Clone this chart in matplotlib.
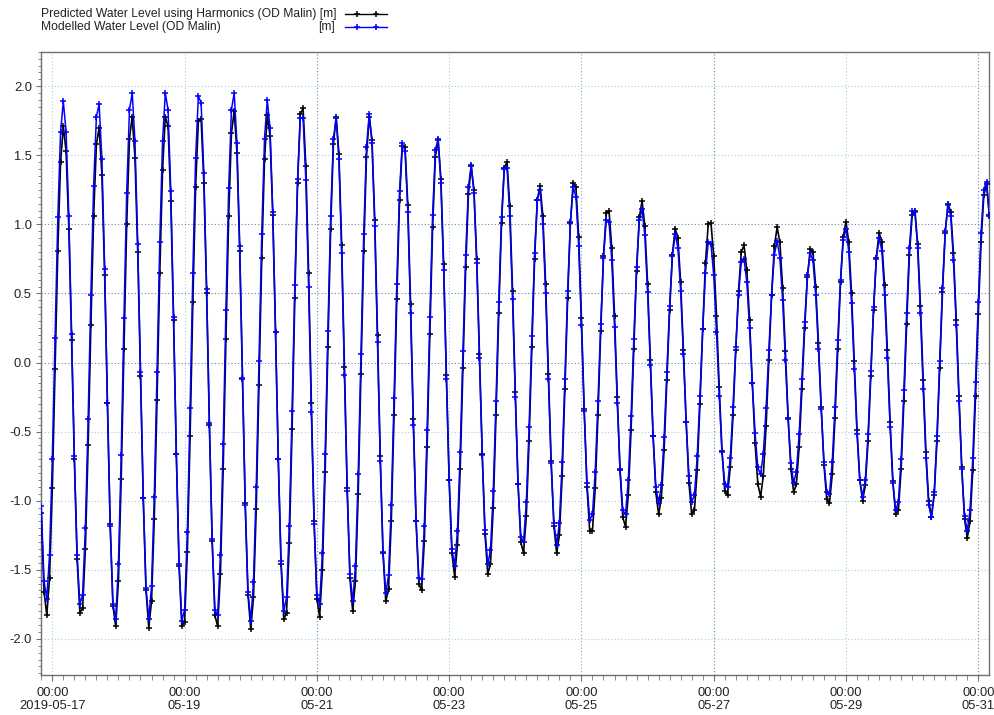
import matplotlib
matplotlib.use("Agg")
import matplotlib.pyplot as plt
import matplotlib.dates as mdates
from matplotlib.lines import Line2D
from matplotlib.ticker import MultipleLocator, FixedLocator, FixedFormatter, FormatStrFormatter
from datetime import datetime, timedelta

plt.rcParams['font.family'] = ['Liberation Sans', 'DejaVu Sans']
plt.rcParams['axes.unicode_minus'] = False

# ---- data: hourly water levels in cm, from 2019-05-16 20:00 ----
series_start = datetime(2019, 5, 16, 20, 0)

predicted_cm = [
    -109, -166, -183, -156, -91, -5, 81, 145, 171, 153, 97, 16, -70, -142, -181, -178, -135, -60, 27, 106,
    158, 170, 136, 63, -29, -117, -176, -191, -158, -84, 10, 100, 162, 178, 148, 80, -10, -98, -165, -192,
    -173, -113, -27, 65, 139, 178, 171, 117, 31, -66, -147, -191, -188, -137, -53, 44, 127, 175, 176, 130,
    50, -45, -129, -183, -191, -153, -77, 17, 106, 166, 182, 152, 81, -12, -102, -168, -193, -170, -106, -16,
    76, 147, 179, 164, 107, 22, -70, -146, -186, -181, -131, -48, 47, 130, 180, 184, 142, 65, -29, -115,
    -171, -184, -150, -79, 11, 97, 158, 178, 151, 85, -3, -91, -156, -180, -158, -95, -8, 81, 149, 178,
    161, 103, 20, -68, -138, -173, -164, -115, -38, 46, 118, 157, 156, 114, 42, -41, -115, -160, -165, -129,
    -61, 21, 98, 149, 161, 133, 71, -9, -85, -138, -155, -132, -77, -4, 69, 122, 142, 125, 75, 6,
    -66, -124, -153, -146, -105, -38, 36, 101, 141, 145, 113, 52, -21, -88, -130, -138, -111, -57, 11, 75,
    118, 128, 106, 57, -8, -71, -118, -138, -125, -82, -19, 47, 101, 130, 127, 91, 32, -34, -90, -122,
    -122, -91, -38, 23, 77, 108, 110, 83, 34, -25, -78, -112, -119, -96, -49, 10, 66, 105, 117, 99,
    57, 2, -53, -94, -110, -98, -63, -13, 38, 78, 97, 90, 58, 9, -43, -87, -110, -107, -78, -30,
    24, 72, 100, 101, 77, 34, -18, -64, -93, -96, -76, -38, 9, 52, 80, 85, 67, 31, -15, -58,
    -88, -97, -82, -46, 2, 49, 84, 98, 87, 54, 8, -40, -77, -94, -88, -61, -19, 25, 62, 82,
    80, 55, 14, -32, -74, -99, -102, -81, -40, 10, 58, 91, 102, 87, 50, 1, -49, -85, -100, -89,
    -57, -10, 38, 76, 94, 87, 56, 9, -43, -86, -110, -107, -77, -28, 28, 78, 107, 110, 86, 41,
    -13, -65, -100, -112, -96, -57, -4, 51, 94, 115, 109, 79, 31, -24, -76, -113, -127, -115, -78, -24,
    35, 87, 121, 129, 107,
]

modelled_cm = [
    -104, -158, -171, -139, -70, 18, 105, 167, 189, 167, 106, 21, -68, -139, -175, -168, -120, -41, 49, 128,
    178, 187, 147, 68, -29, -118, -175, -186, -146, -67, 32, 123, 183, 195, 160, 86, -7, -98, -163, -186,
    -162, -97, -7, 87, 160, 195, 183, 124, 33, -66, -146, -187, -179, -123, -33, 65, 148, 193, 188, 137,
    53, -44, -128, -179, -183, -139, -59, 38, 126, 183, 195, 159, 84, -11, -103, -166, -187, -159, -90, 1,
    93, 162, 190, 170, 109, 22, -70, -144, -180, -170, -118, -35, 56, 133, 177, 177, 132, 55, -36, -117,
    -168, -175, -138, -66, 23, 106, 162, 177, 147, 79, -9, -93, -153, -173, -147, -81, 6, 93, 156, 180,
    159, 99, 15, -71, -137, -167, -154, -103, -26, 57, 124, 159, 153, 109, 36, -45, -115, -156, -157, -118,
    -49, 33, 107, 154, 162, 130, 67, -12, -85, -135, -147, -122, -65, 8, 78, 127, 143, 123, 72, 3,
    -67, -121, -146, -136, -93, -28, 44, 105, 140, 141, 106, 46, -25, -88, -126, -130, -101, -47, 19, 79,
    118, 125, 100, 50, -12, -73, -116, -132, -116, -72, -12, 52, 102, 127, 120, 84, 27, -35, -87, -114,
    -110, -79, -28, 28, 76, 103, 102, 74, 26, -29, -77, -107, -110, -85, -39, 17, 69, 103, 111, 92,
    51, -2, -53, -90, -102, -89, -54, -7, 41, 77, 93, 83, 52, 6, -43, -82, -101, -96, -68, -24,
    24, 65, 87, 86, 63, 22, -24, -65, -88, -90, -69, -32, 11, 49, 73, 75, 58, 25, -15, -51,
    -76, -81, -66, -33, 9, 49, 78, 88, 76, 45, 2, -41, -73, -87, -79, -52, -12, 29, 63, 79,
    74, 49, 10, -34, -72, -94, -95, -72, -32, 16, 60, 89, 97, 80, 43, -5, -52, -85, -97, -85,
    -52, -6, 40, 75, 90, 81, 49, 3, -47, -87, -107, -101, -70, -20, 36, 83, 110, 109, 83, 36,
    -19, -69, -103, -112, -94, -53, 1, 54, 95, 114, 106, 74, 27, -28, -77, -111, -122, -107, -69, -14,
    44, 94, 125, 131, 106,
]

series_names = ["Predicted Water Level using Harmonics (OD Malin) [m]",
                "Modelled Water Level (OD Malin)"]
tick_dates = [datetime(2019, 5, d) for d in (17, 19, 21, 23, 25, 27, 29, 31)]
tick_labels = ["00:00\n2019-05-17", "00:00\n05-19", "00:00\n05-21", "00:00\n05-23",
               "00:00\n05-25", "00:00\n05-27", "00:00\n05-29", "00:00\n05-31"]
y_ticks = [-2.0, -1.5, -1.0, -0.5, 0.0, 0.5, 1.0, 1.5, 2.0]

# ---- derived ----
times = [series_start + timedelta(hours=i) for i in range(len(predicted_cm))]
predicted = [v / 100 for v in predicted_cm]
modelled = [v / 100 for v in modelled_cm]

fig = plt.figure(figsize=(9.95, 7.15), dpi=100)
ax = fig.add_axes([41 / 995, 1 - 674.7 / 715, (989 - 41) / 995, (674.7 - 51.7) / 715])

ax.plot(times, predicted, color='black', lw=1.2, marker='+', ms=4, mew=1.1, zorder=3)
ax.plot(times, modelled, color='#0000ff', lw=1.1, marker='+', ms=4, mew=1.1, zorder=4)

ax.set_xlim(datetime(2019, 5, 16, 19, 54), datetime(2019, 5, 31, 3, 53))
ax.set_ylim(-2.26, 2.25)
ax.xaxis.set_major_locator(FixedLocator(mdates.date2num(tick_dates)))
ax.xaxis.set_major_formatter(FixedFormatter(tick_labels))
ax.xaxis.set_minor_locator(mdates.HourLocator(byhour=range(0, 24, 4)))
ax.yaxis.set_major_locator(FixedLocator(y_ticks))
ax.yaxis.set_minor_locator(MultipleLocator(0.05))
ax.yaxis.set_major_formatter(FormatStrFormatter('%.1f'))

ax.grid(True, which='major', color='#a6d0e4', linestyle=(0, (1, 2)), lw=0.8)
dark = '#5f88b0'
for i, gl in enumerate(ax.get_xgridlines()):
    if i in (2, 5, 7):
        gl.set_color(dark)
    elif i == 4:
        gl.set_color('#7fa8c8')
for i, gl in enumerate(ax.get_ygridlines()):
    if i in (4, 5, 6):
        gl.set_color(dark)
for s in ax.spines.values():
    s.set_color('#707070')
    s.set_linewidth(1.0)
ax.tick_params(which='both', direction='out', color='#707070', labelcolor='#222222', labelsize=9.3)
ax.tick_params(axis='x', which='major', length=4.5, pad=4)
ax.tick_params(axis='x', which='minor', length=3.6)
ax.tick_params(axis='y', which='major', length=3.6, pad=3)
ax.tick_params(axis='y', which='minor', length=2.5)

# legend above the axes
fs = 8.7
fig.text(41.5 / 995, 1 - 14 / 715, series_names[0],
         fontsize=fs, va='center', ha='left', color='#222222')
fig.text(41.5 / 995, 1 - 27.3 / 715, series_names[1],
         fontsize=fs, va='center', ha='left', color='#222222')
fig.text(335 / 995, 1 - 27.3 / 715, "[m]", fontsize=fs, va='center', ha='right', color='#222222')
for yy, c in ((14, 'black'), (27.3, '#0000ff')):
    fig.add_artist(Line2D([345 / 995, 387 / 995], [1 - yy / 715] * 2, color=c, lw=1.0,
                          transform=fig.transFigure))
    fig.add_artist(Line2D([357 / 995, 376 / 995], [1 - yy / 715] * 2, color=c, lw=0, marker='+',
                          ms=4, mew=1.1, transform=fig.transFigure))

fig.savefig('out.png', dpi=100)
